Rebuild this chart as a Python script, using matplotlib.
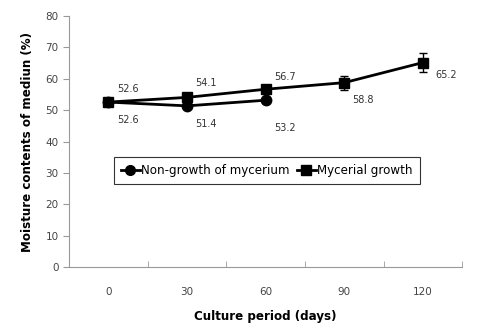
import matplotlib.pyplot as plt
from matplotlib.lines import Line2D

days = ['0', '30', '60', '90', '120']
non_growth = [52.6, 51.4, 53.2]
non_growth_err = [0.8, 0.8, 0.8]
mycelial = [52.6, 54.1, 56.7, 58.8, 65.2]
mycelial_err = [0.8, 1.0, 1.0, 2.2, 2.9]

plt.rcParams['font.family'] = ['DejaVu Sans']

fig = plt.figure(figsize=(4.97, 3.29), dpi=100)
ax = fig.add_axes([0.139, 0.188, 0.791, 0.763])

x = list(range(len(days)))
ax.errorbar(x[:len(non_growth)], non_growth, yerr=non_growth_err, color='black',
            marker='o', markersize=7.5, linewidth=2, capsize=3, elinewidth=1)
ax.errorbar(x, mycelial, yerr=mycelial_err, color='black',
            marker='s', markersize=7.5, linewidth=2, capsize=3, elinewidth=1)

# value labels
lab_kw = dict(textcoords='offset points', fontsize=7, color='#333333')
ax.annotate('52.6', (0, mycelial[0]), xytext=(6, 7), **lab_kw)
ax.annotate('54.1', (1, mycelial[1]), xytext=(6, 8), **lab_kw)
ax.annotate('56.7', (2, mycelial[2]), xytext=(6, 7), **lab_kw)
ax.annotate('58.8', (3, mycelial[3]), xytext=(6, -15), **lab_kw)
ax.annotate('65.2', (4, mycelial[4]), xytext=(9, -11), **lab_kw)
ax.annotate('52.6', (0, non_growth[0]), xytext=(6, -15), **lab_kw)
ax.annotate('51.4', (1, non_growth[1]), xytext=(6, -15), **lab_kw)
ax.annotate('53.2', (2, non_growth[2]), xytext=(6, -22), **lab_kw)

ax.set_xlim(-0.5, 4.5)
ax.set_ylim(0, 80)
ax.set_yticks(range(0, 81, 10))
ax.set_xticks(x)
ax.set_xticklabels(days)
ax.set_xticks([i - 0.5 for i in range(6)], minor=True)
ax.tick_params(axis='x', which='major', length=0, pad=14)
ax.tick_params(axis='x', which='minor', length=4, color='#999999', direction='in')
ax.tick_params(axis='y', length=4, color='#999999', labelsize=7.5, labelcolor='#444444')
ax.tick_params(axis='x', labelsize=7.5, labelcolor='#444444')

for s in ['top', 'right']:
    ax.spines[s].set_visible(False)
for s in ['left', 'bottom']:
    ax.spines[s].set_color('#999999')

ax.set_xlabel('Culture period (days)', fontsize=8.6, fontweight='bold', labelpad=10)
ax.set_ylabel('Moisture contents of mediun (%)', fontsize=8.6, fontweight='bold', labelpad=8)

handles = [Line2D([], [], color='black', marker='o', markersize=7, linewidth=2),
           Line2D([], [], color='black', marker='s', markersize=7, linewidth=2)]
leg = ax.legend(handles, ['Non-growth of mycerium', 'Mycerial growth'],
                loc='center', bbox_to_anchor=(0.503, 0.385), ncol=2, frameon=True,
                fancybox=False, edgecolor='black', fontsize=8.6, handlelength=1.6,
                handletextpad=0.1, columnspacing=0.6, borderpad=0.6)
leg.get_frame().set_linewidth(0.8)

fig.savefig('out.png', dpi=100)
